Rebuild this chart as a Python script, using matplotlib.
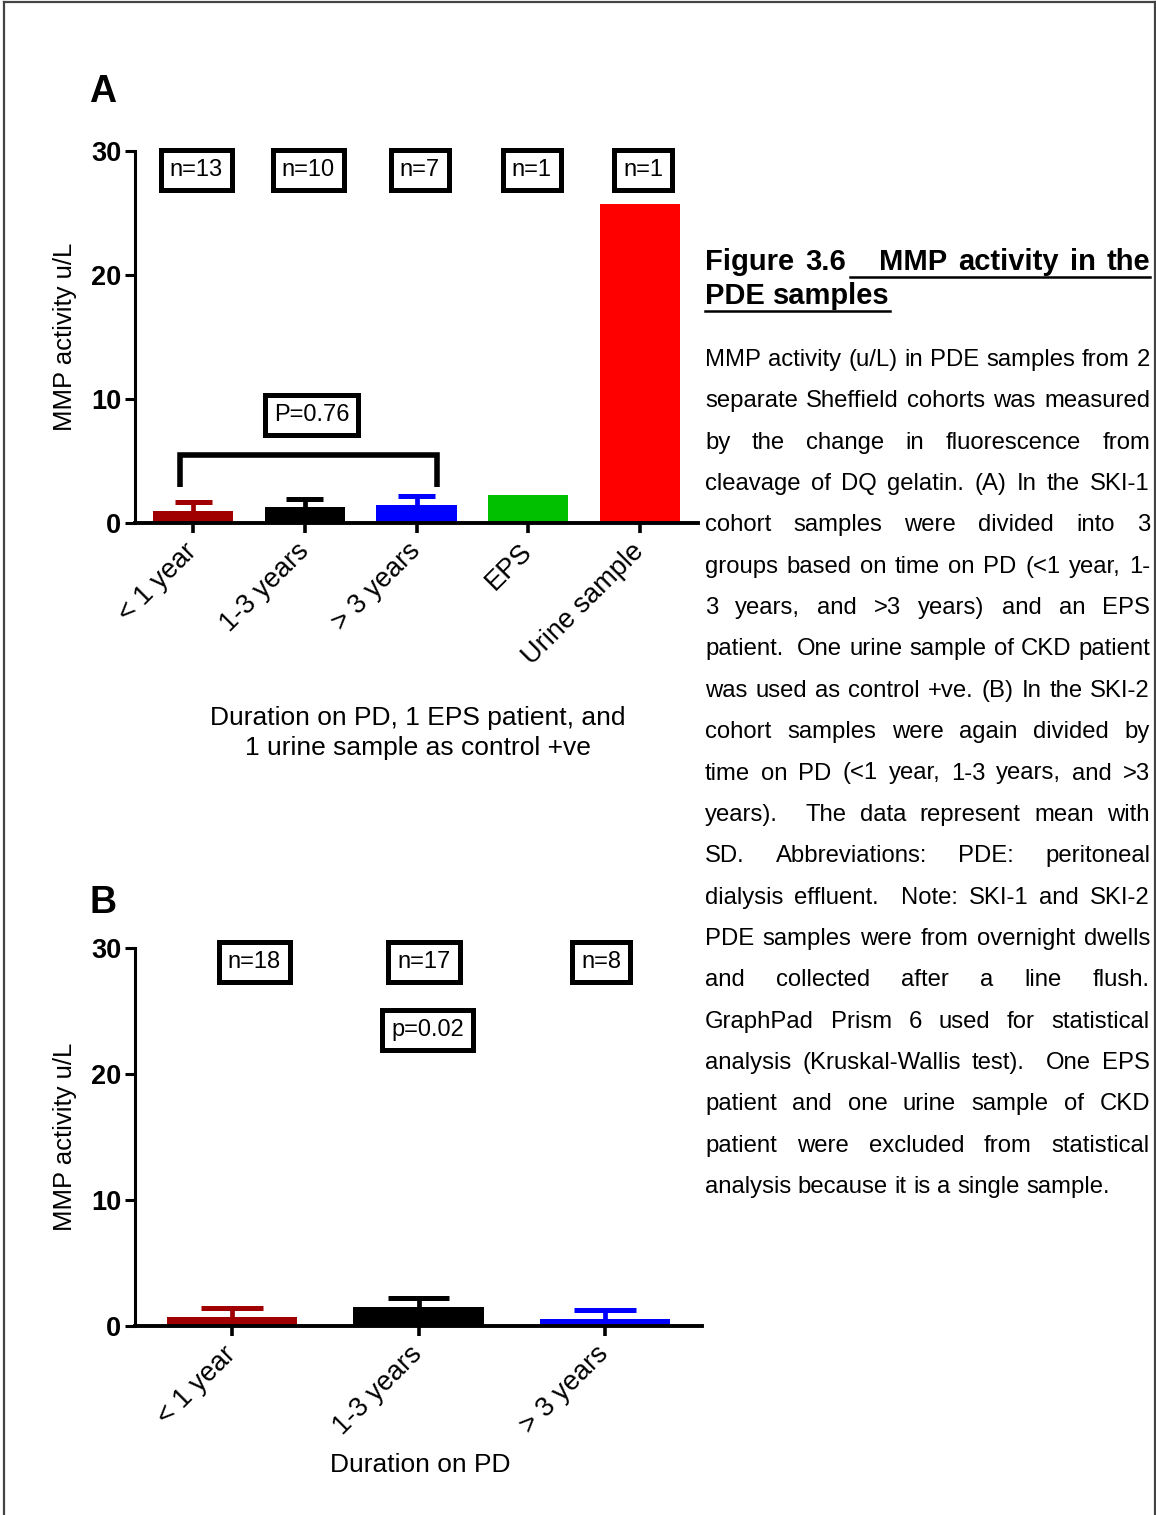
import matplotlib
matplotlib.use('Agg')
import matplotlib.pyplot as plt
from matplotlib.lines import Line2D
import numpy as np

plt.rcParams['font.family'] = ['Liberation Sans', 'DejaVu Sans']

# panel A data
groups_a = ['< 1 year', '1-3 years', '> 3 years', 'EPS', 'Urine sample']
mean_a = [1.0, 1.25, 1.45, 2.25, 25.7]
sd_a = [0.72, 0.72, 0.75, 0.0, 0.0]
colors_a = ['#a00000', '#000000', '#0000ff', '#00c000', '#ff0000']
n_a = ['n=13', 'n=10', 'n=7', 'n=1', 'n=1']
p_a = 'P=0.76'

# panel B data
groups_b = ['< 1 year', '1-3 years', '> 3 years']
mean_b = [0.75, 1.5, 0.55]
sd_b = [0.71, 0.7, 0.72]
colors_b = ['#a00000', '#000000', '#0000ff']
n_b = ['n=18', 'n=17', 'n=8']
p_b = 'p=0.02'

yticks = [0, 10, 20, 30]

title_lines = ['Figure 3.6   MMP activity in the', 'PDE samples']
caption_lines = [
    'MMP activity (u/L) in PDE samples from 2',
    'separate Sheffield cohorts was measured',
    'by the change in fluorescence from',
    'cleavage of DQ gelatin. (A) In the SKI-1',
    'cohort samples were divided into 3',
    'groups based on time on PD (<1 year, 1-',
    '3 years, and >3 years) and an EPS',
    'patient.  One urine sample of CKD patient',
    'was used as control +ve. (B) In the SKI-2',
    'cohort samples were again divided by',
    'time on PD (<1 year, 1-3 years, and >3',
    'years).  The data represent mean with',
    'SD.  Abbreviations:  PDE:  peritoneal',
    'dialysis effluent.  Note: SKI-1 and SKI-2',
    'PDE samples were from overnight dwells',
    'and collected after a line flush.',
    'GraphPad Prism 6 used for statistical',
    'analysis (Kruskal-Wallis test).  One EPS',
    'patient and one urine sample of CKD',
    'patient were excluded from statistical',
    'analysis because it is a single sample.',
]

W, H = 1156, 1515


def box(ax, x, y, s):
    ax.text(x, y, s, ha='center', va='center', fontsize=17,
            bbox=dict(boxstyle='square,pad=0.38', fc='white', ec='black', lw=3.6))


def draw_panel(ax, groups, means, sds, colors, width):
    x = np.arange(len(groups))
    ax.bar(x, means, width, color=colors, zorder=2)
    # mean with SD, upper whisker only (Prism style)
    for i in range(len(groups)):
        if sds[i] > 0:
            top = means[i] + sds[i]
            ax.vlines(x[i], means[i], top, color=colors[i], lw=3.4, zorder=1)
            ax.hlines(top, x[i] - 0.165, x[i] + 0.165, color=colors[i], lw=3.6, zorder=1)
    ax.set_ylim(0, 30)
    ax.set_yticks(yticks)
    ax.set_yticklabels([str(t) for t in yticks], fontsize=19.5, fontweight='bold')
    ax.set_xticks(x)
    ax.set_xticklabels(groups, rotation=45, ha='right', va='center',
                       rotation_mode='anchor', fontsize=19.5)
    ax.set_xlim(-0.52, len(groups) - 0.48)
    for side in ['top', 'right']:
        ax.spines[side].set_visible(False)
    ax.spines['left'].set_linewidth(2.2)
    ax.spines['bottom'].set_linewidth(2.8)
    ax.tick_params(axis='y', length=7, width=2.2, pad=3)
    ax.tick_params(axis='x', length=7.5, width=2.6, pad=10)
    return x


def place_line(fig, line, x0, x1, yb, size, weight, justify):
    renderer = fig.canvas.get_renderer()
    tokens = line.split(' ')
    items = []
    for tok in tokens:
        if tok:
            t = fig.text(0, 1 - yb / H, tok, fontsize=size, fontweight=weight,
                         va='baseline', ha='left')
            items.append((t, t.get_window_extent(renderer).width))
        else:
            items.append((None, 0.0))
    total = sum(w for _, w in items)
    if justify and len(items) > 1:
        gap = (x1 - x0 - total) / (len(items) - 1)
    else:
        gap = size * 0.278 * fig.dpi / 72
    x = x0
    ends = []
    for t, w in items:
        if t is not None:
            t.set_x(x / W)
        ends.append(x + w)
        x += w + gap
    return items, ends


fig = plt.figure(figsize=(W / 100, H / 100), dpi=100)

# panel A
ax_a = fig.add_axes([135 / W, 1 - 523 / H, 563 / W, 372 / H])
draw_panel(ax_a, groups_a, mean_a, sd_a, colors_a, 0.72)
for i, s in enumerate(n_a):
    box(ax_a, i + 0.03, 28.5, s)
ax_a.plot([-0.12, -0.12, 2.18, 2.18], [2.9, 5.5, 5.5, 2.9], color='black',
          lw=4, solid_joinstyle='miter', solid_capstyle='butt')
box(ax_a, 1.06, 8.7, p_a)

# panel B
ax_b = fig.add_axes([135 / W, 1 - 1326 / H, 567 / W, 378 / H])
draw_panel(ax_b, groups_b, mean_b, sd_b, colors_b, 0.7)
for i, s in enumerate(n_b):
    box(ax_b, i + [0.12, 0.03, -0.02][i], 28.9, s)
box(ax_b, 1.05, 23.5, p_b)

# labels
fig.text(103 / W, 1 - 92 / H, 'A', fontsize=27, fontweight='bold', ha='center', va='center')
fig.text(103 / W, 1 - 903 / H, 'B', fontsize=27, fontweight='bold', ha='center', va='center')
fig.text(65 / W, 1 - 337 / H, 'MMP activity u/L', rotation=90, fontsize=18.5,
         ha='center', va='center')
fig.text(65 / W, 1 - 1137 / H, 'MMP activity u/L', rotation=90, fontsize=18.5,
         ha='center', va='center')
fig.text(418 / W, 1 - 733 / H, 'Duration on PD, 1 EPS patient, and\n1 urine sample as control +ve',
         fontsize=19, ha='center', va='center', linespacing=1.32)
fig.text(420 / W, 1 - 1465 / H, 'Duration on PD', fontsize=19, ha='center', va='center')

# caption title, justified and underlined
x0, x1 = 705, 1150
items, ends = place_line(fig, title_lines[0], x0, x1, 270, 21, 'bold', True)
fig.add_artist(Line2D([(ends[1] + 4) / W, x1 / W], [1 - 277 / H, 1 - 277 / H],
                      color='black', lw=1.8))
items, ends = place_line(fig, title_lines[1], x0, x1, 304, 21, 'bold', False)
fig.add_artist(Line2D([x0 / W, ends[-1] / W], [1 - 311 / H, 1 - 311 / H],
                      color='black', lw=1.8))

# caption body
for i, line in enumerate(caption_lines):
    last = i == len(caption_lines) - 1
    place_line(fig, line, x0, x1, 366 + 41.35 * i, 17.2, 'normal', not last)

# page frame
frame = dict(color='#444444', lw=1.6)
fig.add_artist(Line2D([4 / W, 4 / W], [0, 1 - 2 / H], **frame))
fig.add_artist(Line2D([4 / W, 1155 / W], [1 - 2 / H, 1 - 2 / H], **frame))
fig.add_artist(Line2D([1155 / W, 1155 / W], [0, 1 - 2 / H], **frame))

fig.savefig('out.png', dpi=100)
